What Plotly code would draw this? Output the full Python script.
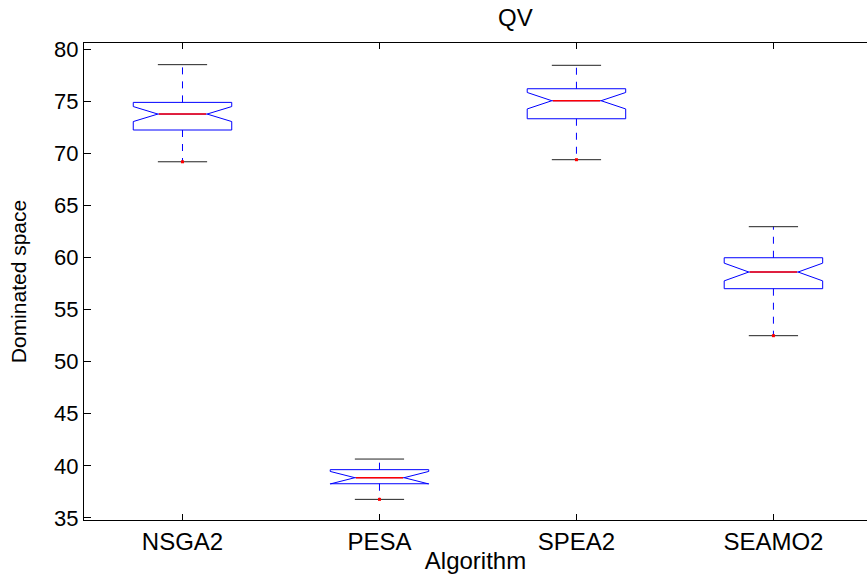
import plotly.graph_objects as go

# ---- data ----
algorithms = ["NSGA2", "PESA", "SPEA2", "SEAMO2"]
positions = [1, 2, 3, 4]
upper_whisker = [78.5, 40.65, 78.44, 62.95]
q3 = [74.88, 39.63, 76.19, 59.97]
median = [73.76, 38.86, 75.04, 58.6]
q1 = [72.23, 38.28, 73.31, 57.0]
lower_whisker = [69.18, 36.78, 69.38, 52.49]
notch_span = [0.72, 0.6, 0.79, 0.85]
outliers_x = [1, 2, 3, 4]
outliers_y = [69.18, 36.78, 69.38, 52.49]
y_ticks = [35, 40, 45, 50, 55, 60, 65, 70, 75, 80]

BOX_W = 0.5
CAP_W = 0.25
MED_W = 0.25

FONT = "Liberation Sans, Arial, sans-serif"

fig = go.Figure()

# notched boxes (whiskers collapsed; drawn dashed separately)
fig.add_trace(go.Box(
    x=positions, q1=q1, median=median, q3=q3,
    lowerfence=q1, upperfence=q3, notchspan=notch_span,
    notched=True, notchwidth=0.25, width=BOX_W, whiskerwidth=0,
    boxpoints=False, fillcolor="rgba(0,0,0,0)",
    line=dict(color="#0000ff", width=1), hoverinfo="skip", showlegend=False,
))

# dashed whiskers
wx, wy = [], []
for p, a, b, c, d in zip(positions, q3, upper_whisker, q1, lower_whisker):
    wx += [p, p, None, p, p, None]
    wy += [a, b, None, c, d, None]
fig.add_trace(go.Scatter(x=wx, y=wy, mode="lines",
                         line=dict(color="#0000ff", width=1, dash="7px,7px"),
                         hoverinfo="skip", showlegend=False))

# whisker caps
cx, cy = [], []
for p, u, l in zip(positions, upper_whisker, lower_whisker):
    cx += [p - CAP_W / 2, p + CAP_W / 2, None, p - CAP_W / 2, p + CAP_W / 2, None]
    cy += [u, u, None, l, l, None]
fig.add_trace(go.Scatter(x=cx, y=cy, mode="lines",
                         line=dict(color="#222222", width=1),
                         hoverinfo="skip", showlegend=False))

# red median lines
mx, my = [], []
for p, m in zip(positions, median):
    mx += [p - MED_W / 2 + 0.005, p + MED_W / 2 - 0.005, None]
    my += [m, m, None]
fig.add_trace(go.Scatter(x=mx, y=my, mode="lines",
                         line=dict(color="#ff0000", width=1.6),
                         hoverinfo="skip", showlegend=False))

# outliers
fig.add_trace(go.Scatter(x=outliers_x, y=outliers_y, mode="markers",
                         marker=dict(color="#ff0000", size=3, symbol="square"),
                         hoverinfo="skip", showlegend=False))

fig.update_layout(
    width=867, height=574,
    margin=dict(l=84, r=0, t=43, b=54),
    paper_bgcolor="white", plot_bgcolor="white",
    font=dict(family=FONT, color="black", size=22),
    title=dict(text="QV", x=0.551, xanchor="center", xref="paper",
               y=1 - 18 / 574, yref="container", yanchor="middle",
               font=dict(family=FONT, size=24, color="black")),
    xaxis=dict(range=[0.5, 4.475], tickvals=positions, ticktext=algorithms,
               ticks="inside", ticklen=6, tickcolor="black",
               showline=True, linecolor="black", linewidth=1, mirror="ticks",
               showgrid=False, zeroline=False,
               tickfont=dict(family=FONT, size=24),
               title=dict(text="Algorithm", standoff=0,
                          font=dict(family=FONT, size=24))),
    yaxis=dict(range=[34.8, 80.58], tickvals=y_ticks,
               ticks="inside", ticklen=7, tickcolor="black",
               showline=True, linecolor="black", linewidth=1, mirror=False,
               showgrid=False, zeroline=False,
               tickfont=dict(family=FONT, size=22),
               title=dict(text="Dominated space", standoff=21,
                          font=dict(family=FONT, size=21))),
    yaxis2=dict(range=[34.8, 80.58], tickvals=y_ticks, overlaying="y", side="right",
                ticks="inside", ticklen=3, tickcolor="#555555",
                showticklabels=False, showline=False, showgrid=False, zeroline=False),
)

fig.write_html("out.html")
